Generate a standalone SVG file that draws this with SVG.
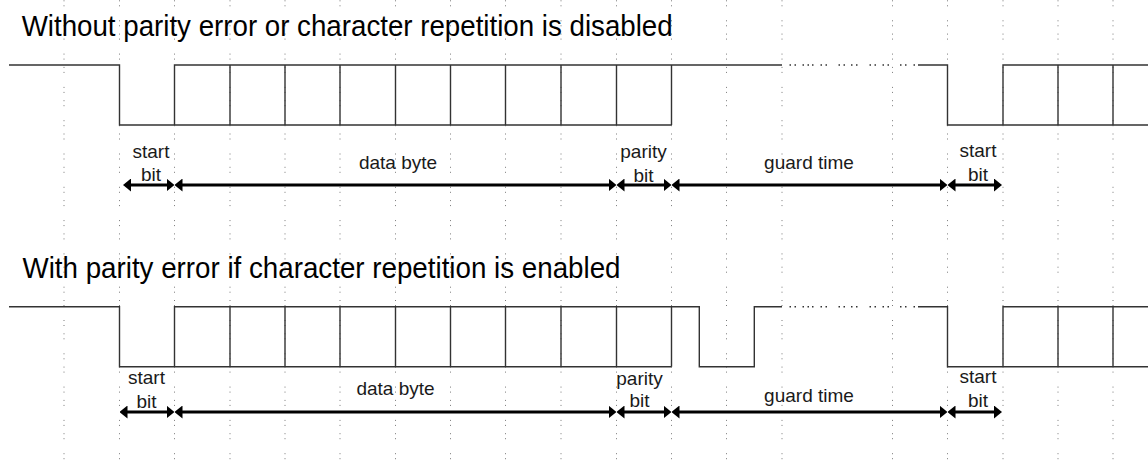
<svg xmlns="http://www.w3.org/2000/svg" width="1148" height="466" viewBox="0 0 1148 466">
<defs>
<style>
.grid{stroke:#7a7a7a;stroke-width:1;stroke-dasharray:1 4 1 7.3 1 4 1 14;stroke-dashoffset:13;fill:none}
.wave{stroke:#333;stroke-width:1.4;fill:none}
.dots{stroke:#333;stroke-width:1.4;fill:none}
.dim{stroke:#000;stroke-width:3;fill:none;marker-start:url(#ah);marker-end:url(#ah)}
.title{font-family:"Liberation Sans",Arial,sans-serif;font-size:29px;fill:#000}
.lbl{font-family:"Liberation Sans",Arial,sans-serif;font-size:19px;fill:#1a1a1a;text-anchor:middle}
</style>
<marker id="ah" viewBox="0 0 8 13" markerWidth="8" markerHeight="13" refX="5" refY="6.5" orient="auto-start-reverse" markerUnits="userSpaceOnUse">
<path d="M0,0 L8,6.5 L0,13 Z" fill="#000"/>
</marker>
</defs>
<rect width="1148" height="466" fill="#fff"/>
<g id="grid" class="grid">
<path d="M64,0V466M119.5,0V466M174.5,0V466M230,0V466M285,0V466M340,0V466M395.5,0V466M450.5,0V466M505.5,0V466M561,0V466M616.5,0V466M671.5,0V466M726.5,0V466M782,0V466M892.5,0V466M947.5,0V466M1003,0V466M1058,0V466M1113,0V466"/>
</g>
<g id="title1"><text class="title" x="21.7" y="36" textLength="651" lengthAdjust="spacingAndGlyphs">Without parity error or character repetition is disabled</text></g>
<g id="title2"><text class="title" x="22.5" y="278.3" textLength="598" lengthAdjust="spacingAndGlyphs">With parity error if character repetition is enabled</text></g>
<g id="wave1">
<path class="wave" d="M9,65H119.5V125H174.5V65H782M174.5,125H671.5M230,65V125M285,65V125M340,65V125M395.5,65V125M450.5,65V125M505.5,65V125M561,65V125M616.5,65V125M671.5,65V125M918,65H947.5V125H1003V65H1148M1003,125H1148M1058,65V125M1113,65V125"/>
<path class="dots" d="M789.5,65h1.5M794.5,65h1.5M802.5,65h1.5M807.5,65h1.5M812,65h1.5M820.5,65h1.5M825.5,65h1.5M838.5,65h1.5M843.5,65h1.5M851,65h1.5M856,65h1.5M869.5,65h1.5M874.5,65h1.5M882.5,65h1.5M887.5,65h1.5M900,65h1.5M905,65h1.5M913.5,65h1.5"/>
</g>
<g id="wave2">
<path class="wave" d="M9,306.7H119.5V366.7H174.5V306.7H699.3V366.7H754.3V306.7H782M174.5,366.7H671.5M230,306.7V366.7M285,306.7V366.7M340,306.7V366.7M395.5,306.7V366.7M450.5,306.7V366.7M505.5,306.7V366.7M561,306.7V366.7M616.5,306.7V366.7M671.5,306.7V366.7M918,306.7H947.5V366.7H1003V306.7H1148M1003,366.7H1148M1058,306.7V366.7M1113,306.7V366.7"/>
<path class="dots" d="M789.5,306.7h1.5M794.5,306.7h1.5M802.5,306.7h1.5M807.5,306.7h1.5M812,306.7h1.5M820.5,306.7h1.5M825.5,306.7h1.5M838.5,306.7h1.5M843.5,306.7h1.5M851,306.7h1.5M856,306.7h1.5M869.5,306.7h1.5M874.5,306.7h1.5M882.5,306.7h1.5M887.5,306.7h1.5M900,306.7h1.5M905,306.7h1.5M913.5,306.7h1.5"/>
</g>
<g id="connectors">
<line class="dim" x1="126" y1="185" x2="171.5" y2="185"/>
<line class="dim" x1="177.5" y1="185" x2="613.5" y2="185"/>
<line class="dim" x1="619.5" y1="185" x2="668.5" y2="185"/>
<line class="dim" x1="674.5" y1="185" x2="944.5" y2="185"/>
<line class="dim" x1="950.5" y1="185" x2="999" y2="185"/>
<line class="dim" x1="122.5" y1="412" x2="171.5" y2="412"/>
<line class="dim" x1="177.5" y1="412" x2="613.5" y2="412"/>
<line class="dim" x1="619.5" y1="412" x2="668.5" y2="412"/>
<line class="dim" x1="674.5" y1="412" x2="944.5" y2="412"/>
<line class="dim" x1="950.5" y1="412" x2="999" y2="412"/>
</g>
<g id="lbl-start1"><text class="lbl" x="151" y="158">start</text><text class="lbl" x="151" y="180.5">bit</text></g>
<g id="lbl-data1"><text class="lbl" x="398" y="168.5">data byte</text></g>
<g id="lbl-parity1"><text class="lbl" x="643.5" y="158">parity</text><text class="lbl" x="643.5" y="181.5">bit</text></g>
<g id="lbl-guard1"><text class="lbl" x="809" y="169">guard time</text></g>
<g id="lbl-start1b"><text class="lbl" x="978" y="157">start</text><text class="lbl" x="978" y="181">bit</text></g>
<g id="lbl-start2"><text class="lbl" x="146.5" y="383.5">start</text><text class="lbl" x="146.5" y="408">bit</text></g>
<g id="lbl-data2"><text class="lbl" x="395.5" y="394.5">data byte</text></g>
<g id="lbl-parity2"><text class="lbl" x="639.5" y="385">parity</text><text class="lbl" x="639.5" y="407">bit</text></g>
<g id="lbl-guard2"><text class="lbl" x="809" y="401.5">guard time</text></g>
<g id="lbl-start2b"><text class="lbl" x="978" y="382.7">start</text><text class="lbl" x="978" y="407.3">bit</text></g>
</svg>
